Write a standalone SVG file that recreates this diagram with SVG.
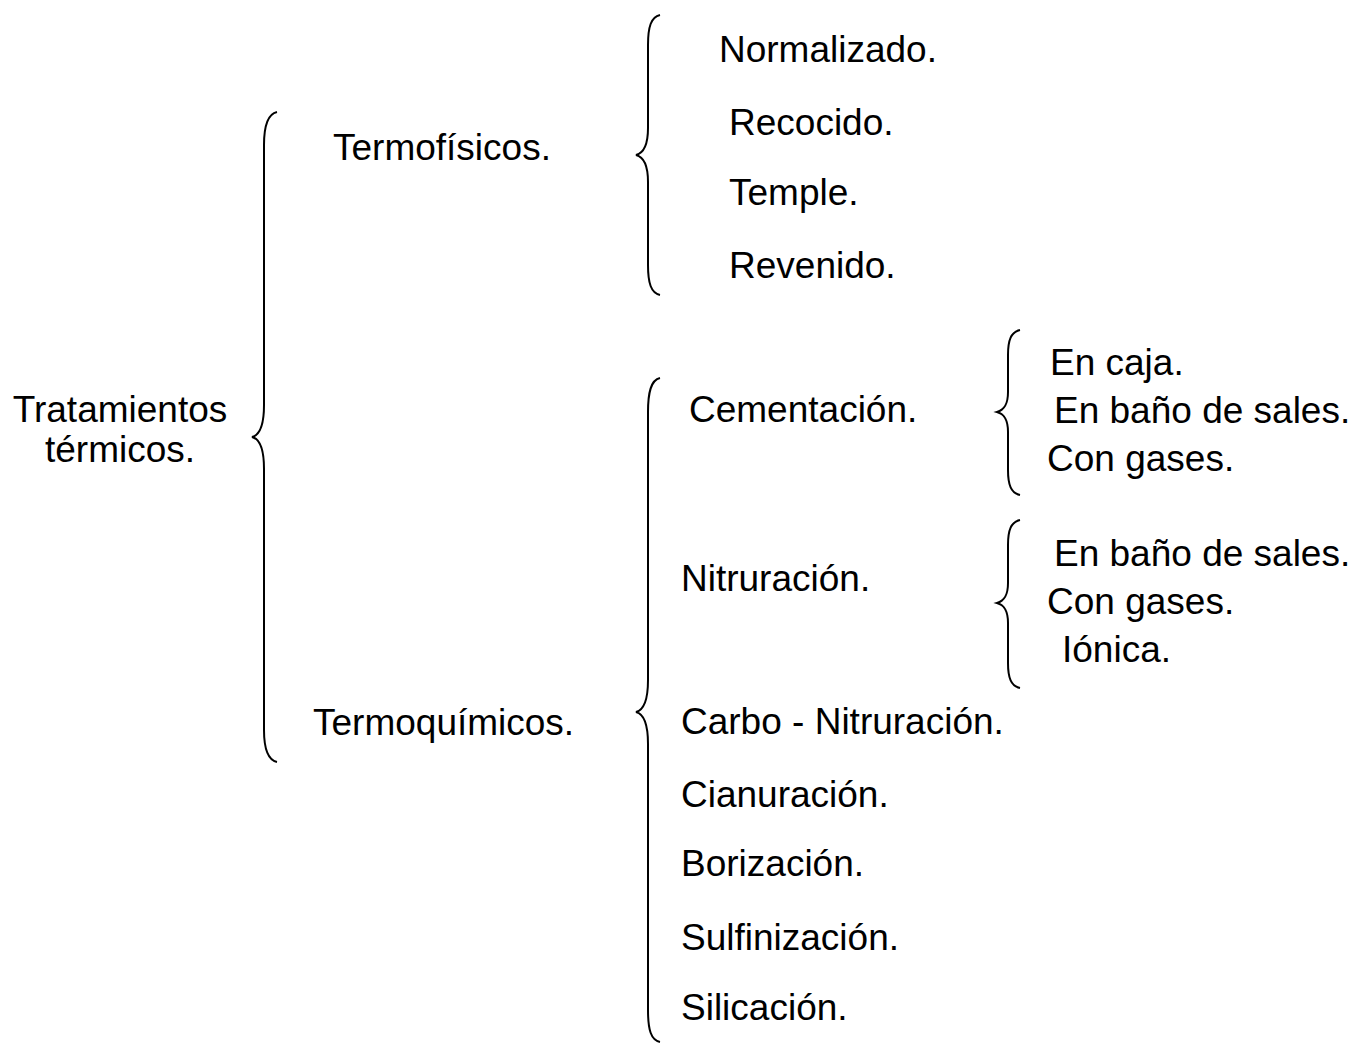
<svg xmlns="http://www.w3.org/2000/svg" width="1354" height="1044" viewBox="0 0 1354 1044">
<style>
text { font-family: "Liberation Sans", Arial, sans-serif; font-size: 37px; fill: #000; }
.brace { fill: none; stroke: #000; stroke-width: 2; }
</style>
<rect width="1354" height="1044" fill="#fff"/>
<g id="connectors">
<path class="brace" d="M277,112 C268,114 264,125 264,145 L264,405 C264,425 260,435 252,437 C260,439 264,449 264,469 L264,730 C264,750 268,760 277,762"/>
<path class="brace" d="M660,15 C651,17 648,27 648,45 L648,128 C648,145 644,153 636,155 C644,157 648,165 648,182 L648,265 C648,283 651,293 660,295"/>
<path class="brace" d="M660,378 C651,380 648,392 648,412 L648,680 C648,700 644,710 636,712 C644,714 648,724 648,744 L648,1010 C648,1030 651,1040 660,1042"/>
<path class="brace" d="M1020,330 C1011,332 1008,340 1008,355 L1008,392 C1008,405 1004,410 997,412 C1004,414 1008,419 1008,432 L1008,470 C1008,485 1011,493 1020,495"/>
<path class="brace" d="M1020,520 C1011,522 1008,530 1008,545 L1008,583 C1008,596 1004,601 997,603 C1004,605 1008,610 1008,623 L1008,663 C1008,678 1011,686 1020,688"/>
</g>
<g id="root"><text x="120" y="422" text-anchor="middle">Tratamientos</text><text x="120" y="462" text-anchor="middle">térmicos.</text></g>
<g id="termofisicos"><text x="333" y="160">Termofísicos.</text></g>
<g id="termoquimicos"><text x="313" y="735">Termoquímicos.</text></g>
<g id="normalizado"><text x="719" y="62">Normalizado.</text></g>
<g id="recocido"><text x="729" y="135">Recocido.</text></g>
<g id="temple"><text x="729" y="205">Temple.</text></g>
<g id="revenido"><text x="729" y="278">Revenido.</text></g>
<g id="cementacion"><text x="689" y="422">Cementación.</text></g>
<g id="nitruracion"><text x="681" y="591">Nitruración.</text></g>
<g id="carbonitruracion"><text x="681" y="734">Carbo - Nitruración.</text></g>
<g id="cianuracion"><text x="681" y="807">Cianuración.</text></g>
<g id="borizacion"><text x="681" y="876">Borización.</text></g>
<g id="sulfinizacion"><text x="681" y="950">Sulfinización.</text></g>
<g id="silicacion"><text x="681" y="1020">Silicación.</text></g>
<g id="cem-caja"><text x="1050" y="375">En caja.</text></g>
<g id="cem-sales"><text x="1054" y="423">En baño de sales.</text></g>
<g id="cem-gases"><text x="1047" y="471">Con gases.</text></g>
<g id="nit-sales"><text x="1054" y="566">En baño de sales.</text></g>
<g id="nit-gases"><text x="1047" y="614">Con gases.</text></g>
<g id="nit-ionica"><text x="1062" y="662">Iónica.</text></g>
</svg>
